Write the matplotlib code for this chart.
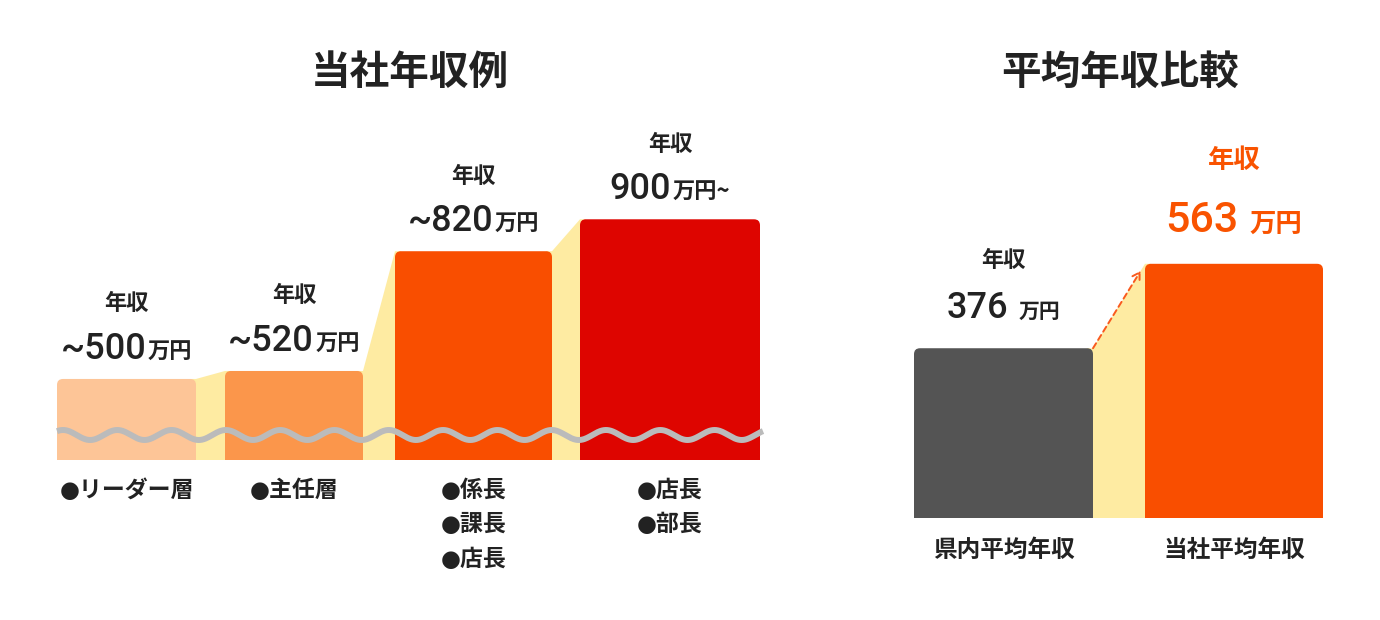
import matplotlib
matplotlib.use('Agg')
import matplotlib.pyplot as plt
import numpy as np
from matplotlib.patches import FancyBboxPatch
from matplotlib.offsetbox import TextArea, HPacker, AnnotationBbox

plt.rcParams['font.family'] = ['Noto Sans CJK JP', 'DejaVu Sans']

# ── Data ──────────────────────────────────────────────────────────────
roles = ['●リーダー層', '●主任層', '●係長\n●課長\n●店長', '●店長\n●部長']
salary = [500, 520, 820, 900]               # 万円
salary_num = ['~500', '~520', '~820', '900']
salary_unit = ['万円', '万円', '万円', '万円~']

compare_labels = ['県内平均年収', '当社平均年収']
compare_values = [376, 563]                 # 万円
compare_num = ['376', '563']
compare_unit = ['万円', '万円']

# ── Layout / style ────────────────────────────────────────────────────
W, H = 1380, 620
role_x = [0.865, 2.54, 4.335, 6.30]
role_w = [1.39, 1.38, 1.57, 1.80]
role_colors = ['#FDC597', '#FB964B', '#F94E00', '#DE0500']
cmp_x = [1.235, 3.54]
cmp_w = [1.79, 1.78]
cmp_colors = ['#545454', '#F94E00']
YELLOW = '#FEEBA2'
TEXT = '#222222'
ORANGE_TXT = '#F95300'
BREAK_AT = 297          # left axis starts here (axis break shown by the wave)
NUM_FONT = ['Roboto', 'Noto Sans CJK JP']
CJK = ['Noto Sans CJK JP', 'DejaVu Sans']
BULLET_FONT = ['DejaVu Sans', 'Noto Sans CJK JP']
PT = 0.72               # points per pixel at dpi 100

fig = plt.figure(figsize=(W / 100, H / 100), dpi=100)
ax1 = fig.add_axes([40 / W, 160 / H, 740 / W, 360 / H])
ax2 = fig.add_axes([880 / W, 102 / H, 480 / W, 408 / H])
ax1.set_xlim(0, 7.4)
ax1.set_ylim(BREAK_AT, BREAK_AT + 360 / 0.3992)
ax2.set_xlim(0, 4.8)
ax2.set_ylim(0, 408 / 0.4515)
for a in (ax1, ax2):
    a.axis('off')


def round_tops(ax, bars, r_px=6):
    sx, sy = np.abs(ax.transData.transform((1, 1)) - ax.transData.transform((0, 0)))
    for b in bars:
        x, y, w, h = b.get_x(), b.get_y(), b.get_width(), b.get_height()
        fc = b.get_facecolor()
        b.remove()
        ext = 2 * r_px / sy
        ax.add_patch(FancyBboxPatch((x, y - ext), w, h + ext,
                                    boxstyle=f'round,pad=0,rounding_size={r_px / sx}',
                                    mutation_aspect=sx / sy, fc=fc, ec='none', zorder=3))


def connectors(ax, xs, ws, vals, base, delta=0.06):
    for i in range(len(vals) - 1):
        xl = xs[i] + ws[i] / 2
        xr = xs[i + 1] - ws[i + 1] / 2
        ax.fill([xl - delta, xl, xr, xr + delta, xr + delta, xl - delta],
                [vals[i], vals[i], vals[i + 1], vals[i + 1], base, base],
                color=YELLOW, lw=0, zorder=2)


def value_label(ax, x, y, num, unit, num_size, unit_size, gap_px, head_px,
                color=TEXT, head_size=16, sep=1):
    row = HPacker(children=[
        TextArea(num, textprops=dict(fontsize=num_size, fontweight='medium',
                                     family=NUM_FONT, color=color)),
        TextArea(unit, textprops=dict(fontsize=unit_size, fontweight='bold',
                                      family=CJK, color=color))],
        align='baseline', pad=0, sep=sep)
    ax.add_artist(AnnotationBbox(row, (x, y), xybox=(0, gap_px * PT),
                                 boxcoords='offset points', box_alignment=(0.5, 0),
                                 frameon=False, pad=0, annotation_clip=False))
    ax.annotate('年収', (x, y), xytext=(0, head_px * PT), textcoords='offset points',
                ha='center', va='center', fontsize=head_size, fontweight='bold',
                color=color, annotation_clip=False)


# ── Left: 当社年収例 ───────────────────────────────────────────────────
bars1 = ax1.bar(role_x, np.array(salary) - BREAK_AT, width=role_w, bottom=BREAK_AT,
                color=role_colors)
round_tops(ax1, bars1)
connectors(ax1, role_x, role_w, salary, BREAK_AT)

wx = np.linspace(role_x[0] - role_w[0] / 2, role_x[-1] + role_w[-1] / 2 + 0.03, 800)
wy = 25 / 360 + (5 / 360) * np.cos(2 * np.pi * (wx - 0.23) / 0.543)
ax1.plot(wx, wy, transform=ax1.get_xaxis_transform(), color='#BBBBBB', lw=4.3,
         zorder=4, solid_capstyle='butt', clip_on=False)

for x, v, n, u in zip(role_x, salary, salary_num, salary_unit):
    value_label(ax1, x, v, n, u, 26, 16, 12, 75)

for x, lab in zip(role_x, roles):
    ax1.annotate(lab, (x, 0), xycoords=('data', 'axes fraction'),
                 xytext=(0, -19 * PT), textcoords='offset points',
                 ha='center', va='top', multialignment='left', linespacing=1.63,
                 fontsize=16.5, fontweight='bold', family=BULLET_FONT, color=TEXT,
                 annotation_clip=False)

# ── Right: 平均年収比較 ────────────────────────────────────────────────
bars2 = ax2.bar(cmp_x, compare_values, width=cmp_w, color=cmp_colors)
round_tops(ax2, bars2)
connectors(ax2, cmp_x, cmp_w, compare_values, 0)

ax2.annotate('', xy=(cmp_x[1] - cmp_w[1] / 2, compare_values[1]),
             xytext=(cmp_x[0] + cmp_w[0] / 2, compare_values[0]),
             arrowprops=dict(arrowstyle='->,head_length=0.5,head_width=0.3',
                             color='#F95A1E', lw=1.4,
                             linestyle=(0, (3, 2)), shrinkA=0, shrinkB=6),
             zorder=5, annotation_clip=False)

value_label(ax2, cmp_x[0], compare_values[0], compare_num[0], compare_unit[0],
            26, 15, 22, 88, sep=7)
value_label(ax2, cmp_x[1], compare_values[1], compare_num[1], compare_unit[1],
            31, 19, 23, 103, color=ORANGE_TXT, head_size=19, sep=8)

for x, lab in zip(cmp_x, compare_labels):
    ax2.annotate(lab, (x, 0), xycoords=('data', 'axes fraction'),
                 xytext=(0, -20 * PT), textcoords='offset points',
                 ha='center', va='top', fontsize=17, fontweight='bold',
                 color=TEXT, annotation_clip=False)

# ── Titles ────────────────────────────────────────────────────────────
for a, title in ((ax1, '当社年収例'), (ax2, '平均年収比較')):
    p = a.get_position()
    fig.text((p.x0 + p.x1) / 2, 1 - 84 / H, title, ha='center', va='baseline',
             fontsize=28.5, fontweight='bold', color=TEXT)

fig.savefig('out.png', dpi=100, facecolor='white')
